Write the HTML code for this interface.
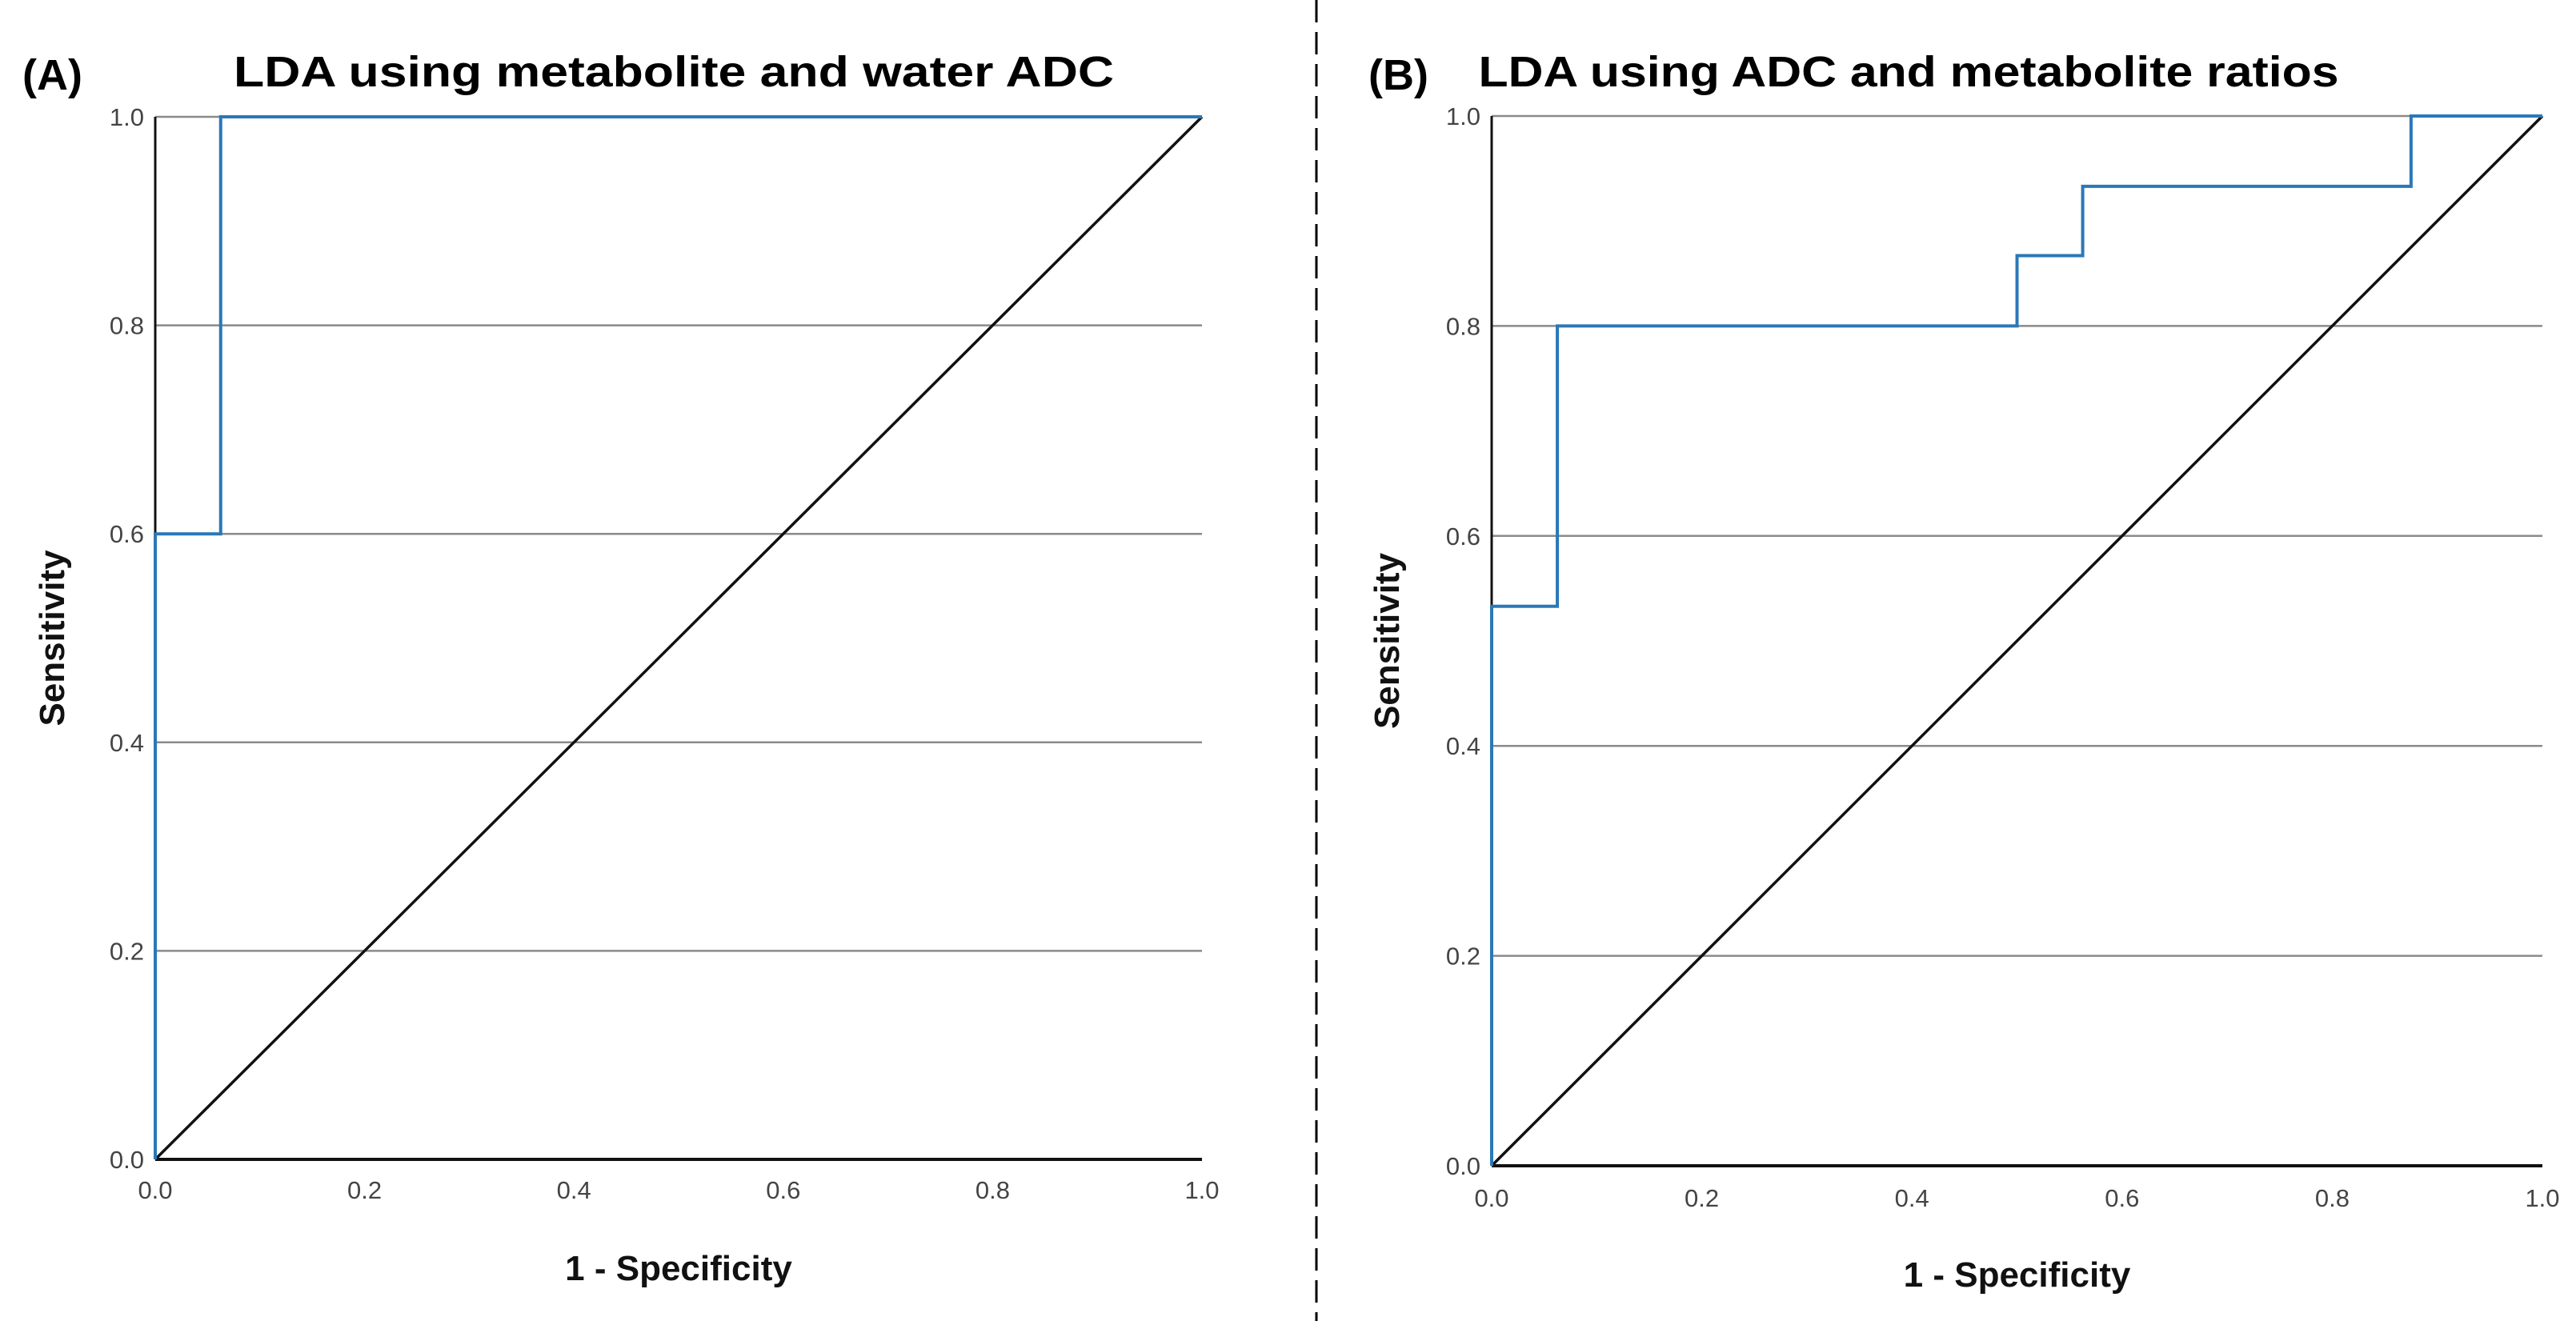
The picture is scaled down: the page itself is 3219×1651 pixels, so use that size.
<!DOCTYPE html>
<html><head><meta charset="utf-8"><style>
html,body{margin:0;padding:0;background:#fff;}
svg{display:block;}
.tick{font-family:"Liberation Sans",sans-serif;font-size:31px;fill:#444;}
.ttl{font-family:"Liberation Sans",sans-serif;font-weight:bold;font-size:54px;fill:#000;}
.ax{font-family:"Liberation Sans",sans-serif;font-weight:bold;font-size:44px;fill:#111;}
</style></head><body>
<svg id="fig" width="3219" height="1651" viewBox="0 0 3219 1651" xmlns="http://www.w3.org/2000/svg">
<line x1="1645" y1="0" x2="1645" y2="1651" stroke="#000" stroke-width="3" stroke-dasharray="28,12"/>
<text class="ttl" x="28" y="112">(A)</text>
<text class="ttl" x="842" y="108" text-anchor="middle" textLength="1100" lengthAdjust="spacingAndGlyphs">LDA using metabolite and water ADC</text>
<text class="ttl" x="1710" y="112">(B)</text>
<text class="ttl" x="2385" y="108" text-anchor="middle" textLength="1075" lengthAdjust="spacingAndGlyphs">LDA using ADC and metabolite ratios</text>
<g id="pa"></g>
<g id="pb"></g>
</svg>
<script>
const ticks = [0, 0.2, 0.4, 0.6, 0.8, 1.0];
const tickLabels = ["0.0", "0.2", "0.4", "0.6", "0.8", "1.0"];
const rocAx = [0, 0, 0.0625, 0.0625, 1];
const rocAy = [0, 0.6, 0.6, 1.0, 1.0];
const rocBx = [0, 0, 0.0625, 0.0625, 0.5, 0.5, 0.5625, 0.5625, 0.875, 0.875, 1];
const rocBy = [0, 0.533, 0.533, 0.8, 0.8, 0.867, 0.867, 0.933, 0.933, 1.0, 1.0];
const refX = [0, 1];
const refY = [0, 1];
const NS = "http://www.w3.org/2000/svg";
function mk(tag, attrs, parent){const e=document.createElementNS(NS,tag);for(const k in attrs)e.setAttribute(k,attrs[k]);parent.appendChild(e);return e;}
function panel(g, L, R, T, B, xs, ys, xlabY, ylabX, axTitleY, sensX){
  const sx=v=>L+v*(R-L), sy=v=>B-v*(B-T);
  ticks.forEach((t,i)=>{
    if(t>0){const gl=mk("line",{x1:L,x2:R,y1:sy(t),y2:sy(t),stroke:"#8a8a8a","stroke-width":2.5},g);
      
      }
    const yl=mk("text",{x:ylabX,y:sy(t)+11,"text-anchor":"end",class:"tick"},g);yl.textContent=tickLabels[i];
    
    
    const xl=mk("text",{x:sx(t),y:xlabY,"text-anchor":"middle",class:"tick"},g);xl.textContent=tickLabels[i];
    
    
  });
  const ref=mk("line",{x1:sx(refX[0]),y1:sy(refY[0]),x2:sx(refX[1]),y2:sy(refY[1]),stroke:"#111","stroke-width":3.5},g);
  
  
  const ya=mk("line",{x1:L,x2:L,y1:T,y2:B,stroke:"#111","stroke-width":3},g);
  
  
  const xa=mk("line",{x1:L,x2:R,y1:B,y2:B,stroke:"#111","stroke-width":4},g);
  
  
  const pts=xs.map((x,i)=>sx(x)+","+sy(ys[i])).join(" ");
  const pl=mk("polyline",{points:pts,fill:"none",stroke:"#2a78b8","stroke-width":4,"stroke-linejoin":"miter"},g);
  
  
  const xt=mk("text",{x:(L+R)/2,y:axTitleY,"text-anchor":"middle",class:"ax"},g);xt.textContent="1 - Specificity";
  
  
  const cy=(T+B)/2;
  const yt=mk("text",{x:sensX,y:cy,"text-anchor":"middle",class:"ax",transform:`rotate(-90 ${sensX} ${cy})`,"font-size":"42"},g);yt.textContent="Sensitivity";
  
  
}
panel(document.getElementById("pa"),194,1502,146,1449,rocAx,rocAy,1498,180,1600,80);
panel(document.getElementById("pb"),1864,3177,145,1457,rocBx,rocBy,1508,1850,1608,1748);
</script>
</body></html>
